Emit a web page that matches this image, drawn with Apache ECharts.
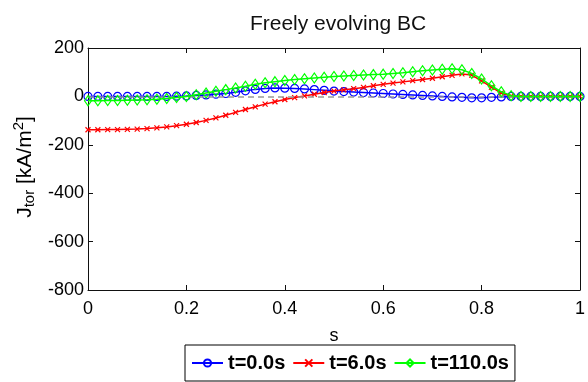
<!DOCTYPE html>
<html>
<head>
<meta charset="utf-8">
<script src="https://cdn.jsdelivr.net/npm/echarts@6/dist/echarts.min.js"></script>
<style>
html,body{margin:0;padding:0;background:#fff;}
#c{width:588px;height:382px;}
</style>
</head>
<body>
<div id="c"></div>
<script>
const sVals = [0,0.02,0.04,0.06,0.08,0.10,0.12,0.14,0.16,0.18,0.20,0.22,0.24,0.26,0.28,0.30,0.32,0.34,0.36,0.38,0.40,0.42,0.44,0.46,0.48,0.50,0.52,0.54,0.56,0.58,0.60,0.62,0.64,0.66,0.68,0.70,0.72,0.74,0.76,0.78,0.80,0.82,0.84,0.86,0.88,0.90,0.92,0.94,0.96,0.98,1.00];
const blueVals = [0,0,0,0,0,0,0,0,0,1,2,4,6,9,12,17,23,29,33,35,34,33,31,28,25,22,20,18,16,14,12,10,8,6,4,2,0,-2,-4,-6,-6,-4,-2,0,0,0,0,0,0,0,0];
const redVals = [-138,-138,-137,-137,-136,-135,-133,-130,-126,-121,-115,-108,-99,-89,-78,-66,-54,-43,-32,-22,-13,-5,2,9,16,22,27,32,37,44,50,55,60,65,70,75,81,87,93,88,64,38,14,2,0,0,0,0,0,0,0];
const greenVals = [-18,-18,-17,-17,-16,-15,-14,-12,-9,-5,0,7,14,21,28,35,42,50,56,61,66,70,73,76,79,82,84,86,88,90,92,95,98,102,106,109,112,114,110,95,72,44,19,3,0,0,0,0,0,0,0];
const seriesNames = ['t=0.0s','t=6.0s','t=110.0s'];
const xTicks = [0,0.2,0.4,0.6,0.8,1];
const yTicks = [-800,-600,-400,-200,0,200];

function pairs(v){ return sVals.map((s,i)=>[s,v[i]]); }

const chart = echarts.init(document.getElementById('c'));
const FONT = 'Liberation Sans, Arial, Helvetica, sans-serif';
const xMarker = 'path://M0,0L10,10M10,0L0,10';
const dMarker = 'path://M5,0L10,7L5,14L0,7Z';

chart.setOption({
  animation:false,
  backgroundColor:'#fff',
  title:{text:'Freely evolving BC', left:333, top:9, textAlign:'center',
    textStyle:{fontFamily:FONT, fontSize:21, fontWeight:'normal', color:'#111'}},
  grid:{left:88, right:8, top:48, bottom:92},
  legend:{
    data:seriesNames, left:185, top:345, padding:[8,6,8,6], itemGap:7,
    itemWidth:31, itemHeight:9,
    borderColor:'#000', borderWidth:1, borderRadius:0,
    textStyle:{fontFamily:FONT, fontSize:20, fontWeight:'bold', color:'#000'}
  },
  xAxis:[{
    type:'value', min:0, max:1, interval:0.2, position:'bottom',
    name:'s', nameLocation:'middle', nameGap:37,
    nameTextStyle:{fontFamily:FONT, fontSize:18, color:'#000'},
    axisLine:{show:true, onZero:false, lineStyle:{color:'#111', width:1}},
    axisTick:{show:true, inside:true, length:5, lineStyle:{color:'#111'}},
    axisLabel:{fontFamily:FONT, fontSize:18, color:'#000', margin:10,
      formatter:v=>String(+v.toFixed(1))},
    splitLine:{show:false}
  },{
    type:'value', min:0, max:1, interval:0.2, position:'top',
    axisLine:{show:true, onZero:false, lineStyle:{color:'#111', width:1}},
    axisTick:{show:true, inside:true, length:5, lineStyle:{color:'#111'}},
    axisLabel:{show:false}, splitLine:{show:false}
  }],
  yAxis:[{
    type:'value', min:-800, max:200, interval:200, position:'left',
    axisLine:{show:true, onZero:false, lineStyle:{color:'#111', width:1}},
    axisTick:{show:true, inside:true, length:5, lineStyle:{color:'#111'}},
    axisLabel:{fontFamily:FONT, fontSize:18, color:'#000', margin:4},
    splitLine:{show:false}
  },{
    type:'value', min:-800, max:200, interval:200, position:'right',
    axisLine:{show:true, onZero:false, lineStyle:{color:'#111', width:1}},
    axisTick:{show:true, inside:true, length:5, lineStyle:{color:'#111'}},
    axisLabel:{show:false}, splitLine:{show:false}
  }],
  graphic:[{
    type:'text', x:25, y:167, rotation:Math.PI/2,
    style:{
      text:'{a|J}{sub|tor}{a| [kA/m}{sup|2}{a|]}',
      align:'center', verticalAlign:'middle',
      rich:{
        a:{fontFamily:FONT, fontSize:21, fill:'#000'},
        sub:{fontFamily:FONT, fontSize:15, fill:'#000', padding:[10,0,0,0]},
        sup:{fontFamily:FONT, fontSize:15, fill:'#000', padding:[0,0,12,0]}
      }
    }
  }],
  series:[{
    name:seriesNames[0], type:'line', data:pairs(blueVals),
    symbol:'circle', symbolSize:8, showSymbol:true,
    color:'#0000ff',
    lineStyle:{color:'#0000ff', width:1.5},
    itemStyle:{color:'rgba(255,255,255,0)', borderColor:'#0000ff', borderWidth:1.2},
    markLine:{silent:true, symbol:'none', label:{show:false},
      lineStyle:{color:'#999', type:[6,4], width:1.5},
      data:[{yAxis:0}]},
    z:3
  },{
    name:seriesNames[1], type:'line', data:pairs(redVals),
    symbol:xMarker, symbolSize:5, showSymbol:true,
    color:'#ff0000',
    lineStyle:{color:'#ff0000', width:1.5},
    itemStyle:{color:'#ff0000', borderColor:'#ff0000', borderWidth:1.2},
    z:4
  },{
    name:seriesNames[2], type:'line', data:pairs(greenVals),
    symbol:dMarker, symbolSize:[7,10], showSymbol:true,
    color:'#00ff00',
    lineStyle:{color:'#00ff00', width:1.5},
    itemStyle:{color:'rgba(255,255,255,0)', borderColor:'#00ff00', borderWidth:1.2},
    z:5
  }]
});
</script>
</body>
</html>
